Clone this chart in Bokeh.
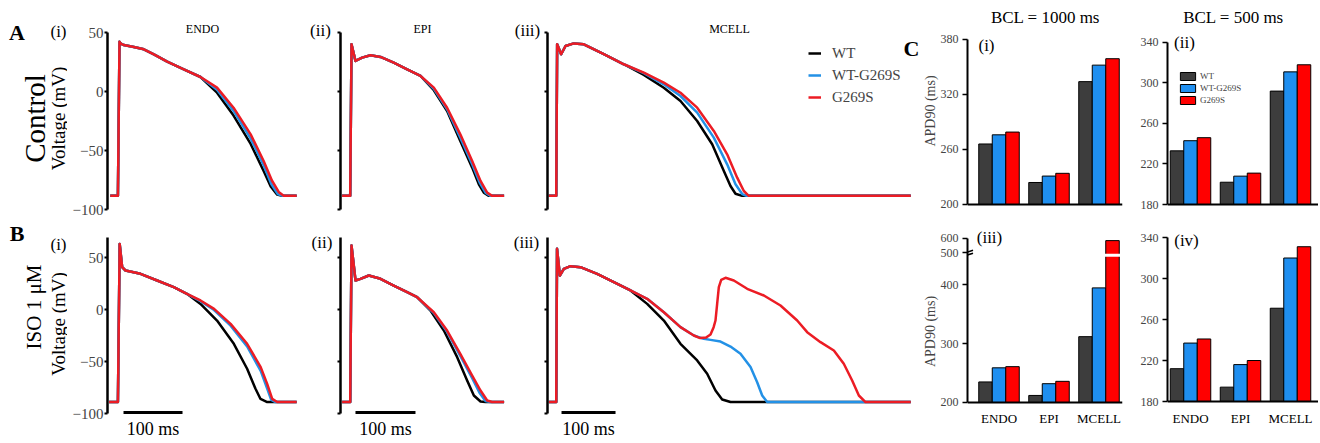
import math
from bokeh.plotting import figure
from bokeh.models import (Range1d, FixedTicker, Label, Legend, LegendItem,
                          Arrow, ColumnDataSource, Span)
from bokeh.layouts import row, column
from bokeh.transform import dodge
from bokeh.embed import file_html
from bokeh.resources import INLINE

SERIES = ["WT", "WT-G269S", "G269S"]
TRACE_COLORS = ["#000000", "#2391e6", "#ec1c24"]
BAR_COLORS = ["#3d3d3d", "#1f8ff0", "#ff0000"]
CELLS = ["ENDO", "EPI", "MCELL"]
SERIF = "Liberation Serif"

# ---------------- APD90 (ms) ----------------
APD_1000_CTRL_WT = [266, 224, 334]
APD_1000_CTRL_HET = [276, 231, 352]
APD_1000_CTRL_MUT = [279, 234, 359]
APD_500_CTRL_WT = [233, 202, 292]
APD_500_CTRL_HET = [243, 208, 311]
APD_500_CTRL_MUT = [246, 211, 318]
APD_1000_ISO_WT = [235, 212, 312]
APD_1000_ISO_HET = [259, 232, 395]
APD_1000_ISO_MUT = [261, 236, 585]
APD_500_ISO_WT = [212, 194, 271]
APD_500_ISO_HET = [237, 216, 320]
APD_500_ISO_MUT = [241, 220, 331]

V_TICKS = [-100, -50, 0, 50]
V_TICK_LABELS = ["\u2212100", "\u221250", "0", "50"]

# ---------------- action potentials: (time ms, voltage mV) ----------------
ENDO_CTRL_SHARED = [(-14, -88), (-1, -88), (1.7, 42.6), (4, 41), (9, 39.8), (26, 38.1),
                    (43, 36.2), (60, 31.9), (82.5, 25.7), (110.7, 19.2), (139, 12.7)]
ENDO_CTRL_WT = [(167, -0.6), (195, -20), (224, -44), (246, -67), (258, -80), (269, -87), (277, -88), (302, -88)]
ENDO_CTRL_HET = [(167, 2), (195, -16), (224, -39.5), (246, -62), (259, -78), (270, -86.5), (278, -88), (302, -88)]
ENDO_CTRL_MUT = [(167, 3.7), (195, -13.3), (224, -35.9), (246, -58.5), (260, -75), (272, -85), (280, -88), (302, -88)]

EPI_CTRL_SHARED = [(-14, -88), (-0.5, -88), (1.7, 40.4), (8.3, 26.3), (19.4, 29.1), (33.3, 31.1),
                   (50, 29.7), (72, 24.9), (94.4, 19.2), (116.7, 13.6)]
EPI_CTRL_WT = [(138.9, 1.5), (161, -16.1), (183, -41.5), (202.8, -64.1), (213.9, -78.2), (222.2, -85.3), (230.5, -88), (256, -88)]
EPI_CTRL_HET = [(138.9, 2.6), (161, -14.7), (183, -38.7), (202.8, -61.3), (215.3, -76.8), (225, -85.3), (233.3, -88), (256, -88)]
EPI_CTRL_MUT = [(138.9, 3.7), (161, -13.3), (183, -35.9), (202.8, -58.5), (216.7, -75.4), (227.8, -85.3), (236, -88), (256, -88)]

MCELL_CTRL_SHARED = [(-14.2, -88), (-0.5, -88), (1.2, 40.4), (8.6, 32), (16.7, 39), (32, 41.2),
                     (50.6, 40.4), (87.6, 32), (124.7, 23.5)]
MCELL_CTRL_WT = [(161.7, 14.5), (198.7, 3.6), (229.6, -7.6), (260.5, -24.6), (288.3, -44.3), (309.9, -67),
                 (322.2, -79.7), (331.5, -86.2), (343.8, -88), (656, -88)]
MCELL_CTRL_HET = [(161.7, 16), (198.7, 6.5), (229.6, -3.4), (260.5, -17.5), (291.3, -38.7), (316, -61.3),
                  (331.5, -78.2), (343.8, -86.5), (351.9, -88), (656, -88)]
MCELL_CTRL_MUT = [(161.7, 16.4), (198.7, 7.9), (229.6, -0.6), (260.5, -13.3), (291.3, -33), (316, -52.8),
                  (334.6, -72.6), (346.9, -83.9), (356, -88), (656, -88)]

ENDO_ISO_SHARED = [(-16, -89), (-1, -89), (2, 63), (6.2, 40.7), (11.9, 37.5), (37.3, 34.3),
                   (65.5, 27.9), (93.7, 21.5), (116, 15.1)]
ENDO_ISO_WT = [(139, 5.4), (167, -10.6), (195.5, -33), (218, -57), (232, -76), (240.7, -86), (252, -89), (302, -89)]
ENDO_ISO_HET = [(139, 8), (162, -0.5), (190, -15.5), (218, -35.5), (241, -59), (252, -76), (259, -87), (266, -89), (302, -89)]
ENDO_ISO_MUT = [(139, 8.7), (162, 0.6), (190, -13.8), (218, -33), (241, -55.4), (252, -71.5), (260.5, -85.9), (269, -89), (302, -89)]

EPI_ISO_SHARED = [(-14, -89), (-0.5, -89), (1.7, 61.5), (8.3, 27.9), (16.7, 29.5), (30.5, 32.7),
                  (50, 29.5), (72, 23), (94.4, 16.7), (111, 11.8)]
EPI_ISO_WT = [(133.3, -1), (155.6, -20.2), (177.8, -45.8), (194.4, -68.3), (205.6, -82.7), (216.7, -88.5), (225, -89), (256, -89)]
EPI_ISO_HET = [(138.9, -3.5), (161, -21.5), (183, -44.5), (202.8, -66), (215, -80), (225, -88), (233, -89), (256, -89)]
EPI_ISO_MUT = [(138.9, -2.6), (161, -20.2), (183, -42.6), (202.8, -63.5), (216.7, -77.9), (227.8, -87.5), (236, -89), (256, -89)]

MCELL_ISO_SHARED = [(-14.2, -89), (-0.5, -89), (1, 58.3), (6.2, 32.7), (13.6, 39.1), (25.9, 41.7),
                    (44.4, 40.7), (75.3, 34.3), (106.2, 26.3), (137, 18.3)]
MCELL_ISO_WT = [(167.9, 5.4), (198.8, -10.6), (229.6, -33), (260.5, -49), (279, -61.8), (294.4, -77.9),
                (306.8, -86.5), (322.2, -89), (656, -89)]
MCELL_ISO_HET = [(167.9, 10.3), (198.8, -2.6), (229.6, -17), (254.3, -25), (272.8, -28.2), (285.2, -29.2),
                 (303.7, -30.8), (322.2, -35.6), (340.7, -42.6), (359.3, -55.4), (371.6, -69.9),
                 (380.9, -82.7), (390.1, -89), (656, -89)]
MCELL_ISO_MUT = [(167.9, 10.3), (198.8, -2.6), (229.6, -17), (254.3, -25), (266, -27.5), (277, -27),
                 (285.2, -24), (291, -17), (294.4, -10.6), (297.5, 5.4), (300.6, 21.5), (305, 28.5),
                 (313, 30.5), (328.4, 27.9), (353.1, 19.9), (384, 13.5), (414.8, 3.8), (445.7, -10.6),
                 (464.2, -21.8), (488.9, -31.4), (513.6, -39.4), (532, -52.2), (547.5, -68.3),
                 (559.9, -82.7), (572.2, -89), (656, -89)]

# view windows (ms / mV) of the trace panels
COL_T_RANGES = [(-18.64, 366.1), (-16.67, 321.67), (-16.67, 672.2)]
ROW_V_RANGES = [(-109.75, 77.54), (-126.92, 84.62)]
ROW_V_BOUNDS = [(-100, 50), (-100, 69.2)]
SCALE_BAR_START = [8.5, 8.3, 9.3]
SCALE_BAR_LEN = 100
SCALE_BAR_LEVEL = -99

BAR_W = 0.27
BREAK_FROM, BREAK_TO, UPPER_COMPRESS = 455, 500, 0.24


def broken(v):
    return v if v <= BREAK_FROM else BREAK_FROM + (v - BREAK_TO) * UPPER_COMPRESS


def text(p, x, y, s, size, bold=False, angle=0.0, xu="canvas", yu="canvas", align="center"):
    p.add_layout(Label(x=x, y=y, x_units=xu, y_units=yu, text=s, text_font=SERIF,
                       text_font_size=f"{size}px", text_font_style="bold" if bold else "normal",
                       angle=angle, text_align=align, text_baseline="middle", text_color="black"))


def base_fig(width, height, left, right, xr, yr, y_axis=True):
    p = figure(width=width, height=height, x_range=Range1d(*xr), y_range=Range1d(*yr),
               output_backend="svg", toolbar_location=None, x_axis_location=None,
               y_axis_location="left" if y_axis else None,
               min_border_left=left, min_border_right=right, min_border_top=0, min_border_bottom=0)
    p.outline_line_color = None
    p.grid.visible = False
    p.background_fill_color = "white"
    p.border_fill_color = "white"
    for ax in p.yaxis:
        ax.axis_label_standoff = 0
        ax.minor_tick_out = 0
        ax.minor_tick_in = 0
        ax.minor_tick_line_color = None
    return p


def trace_panel(width, height, left, xr, ri, labels, shared, tails):
    p = base_fig(width, height, left, 0, xr, ROW_V_RANGES[ri])
    ax = p.yaxis[0]
    ax.bounds = ROW_V_BOUNDS[ri]
    ax.ticker = FixedTicker(ticks=V_TICKS)
    ax.major_tick_out = 3
    ax.major_tick_in = 0
    ax.axis_line_width = 2.5
    ax.major_tick_line_width = 2
    if labels:
        ax.major_label_overrides = dict(zip(V_TICKS, V_TICK_LABELS))
        ax.major_label_text_font = SERIF
        ax.major_label_text_font_size = "15px"
        ax.major_label_standoff = 1
    else:
        ax.major_label_text_color = None
        ax.major_label_standoff = 0
    rends = []
    for tail, col in zip(tails, TRACE_COLORS):
        pts = shared + tail
        rends.append(p.line([q[0] for q in pts], [q[1] for q in pts], line_color=col,
                            line_width=2.5, line_join="round"))
    return p, rends


def add_scalebar(p, col):
    s = SCALE_BAR_START[col]
    p.line([s, s + SCALE_BAR_LEN], [SCALE_BAR_LEVEL, SCALE_BAR_LEVEL], line_color="black", line_width=3)
    text(p, s + SCALE_BAR_LEN / 2, 207, "100 ms", 18, xu="data")


def bar_panel(width, height, left, right, xr, yr, base, top, ticks, values, show_cats,
              disp=lambda v: v, ylabel=None):
    p = base_fig(width, height, left, right, xr, yr)
    data = {"x": [0, 1, 2]}
    for s, vals in zip(SERIES, values):
        data[s] = [disp(v) for v in vals]
    src = ColumnDataSource(data)
    rends = []
    for i, s in enumerate(SERIES):
        rends.append(p.vbar(x=dodge("x", (i - 1) * BAR_W), top=s, bottom=base, width=BAR_W,
                            source=src, fill_color=BAR_COLORS[i], line_color="black", line_width=1))
    p.add_layout(Span(location=base, dimension="width", line_color="black", line_width=2))
    if show_cats:
        for i, c in enumerate(CELLS):
            text(p, i, 197, c, 13, xu="data")
    ya = p.yaxis[0]
    ya.bounds = (base, disp(top))
    ya.ticker = FixedTicker(ticks=[disp(t) for t in ticks])
    ya.major_label_overrides = {disp(t): str(t) for t in ticks}
    ya.major_tick_out = 5
    ya.major_tick_in = 0
    ya.axis_line_width = 2
    ya.major_tick_line_width = 1.5
    ya.major_label_text_font = SERIF
    ya.major_label_text_font_size = "12px"
    ya.major_label_standoff = 4
    if ylabel:
        ya.axis_label = ylabel
        ya.axis_label_text_font = SERIF
        ya.axis_label_text_font_size = "14px"
        ya.axis_label_text_font_style = "normal"
    return p, rends


H0, H1 = 221, 220
W = [67, 267, 209, 376, 211, 188]

# ---------------- left text strips ----------------
fA0 = base_fig(W[0], H0, 0, 0, (0, 1), (0, 1), y_axis=False)
text(fA0, 16.5, 31.5, "A", 22, bold=True)
text(fA0, 58, 31, "(i)", 17)
text(fA0, 34, 118, "Control", 29, angle=math.pi / 2)
text(fA0, 57.5, 118, "Voltage (mV)", 19, angle=math.pi / 2)

fB0 = base_fig(W[0], H1, 0, 0, (0, 1), (0, 1), y_axis=False)
text(fB0, 16.5, 11.5, "B", 22, bold=True)
text(fB0, 58, 23, "(i)", 17)
text(fB0, 33, 85.5, "ISO 1 \u03bcM", 21, angle=math.pi / 2)
text(fB0, 57.5, 102.5, "Voltage (mV)", 19, angle=math.pi / 2)

# ---------------- row A (control) ----------------
fA1, _ = trace_panel(W[1], H0, 40, COL_T_RANGES[0], 0, True,
                     ENDO_CTRL_SHARED, [ENDO_CTRL_WT, ENDO_CTRL_HET, ENDO_CTRL_MUT])
text(fA1, 135, 28, "ENDO", 12)
text(fA1, 253, 30, "(ii)", 17)

fA2, _ = trace_panel(W[2], H0, 6, COL_T_RANGES[1], 0, False,
                     EPI_CTRL_SHARED, [EPI_CTRL_WT, EPI_CTRL_HET, EPI_CTRL_MUT])
text(fA2, 88, 28, "EPI", 12)
text(fA2, 193, 30, "(iii)", 17)

fA3, rA3 = trace_panel(W[3], H0, 4, COL_T_RANGES[2], 0, False,
                       MCELL_CTRL_SHARED, [MCELL_CTRL_WT, MCELL_CTRL_HET, MCELL_CTRL_MUT])
text(fA3, 186, 28, "MCELL", 12)
text(fA3, 368, 47.5, "C", 22, bold=True)
legA = Legend(items=[LegendItem(label=s, renderers=[r]) for s, r in zip(SERIES, rA3)],
              location=(261, 114), border_line_color=None, background_fill_alpha=0,
              padding=0, margin=0, spacing=2, glyph_width=13, glyph_height=20, label_height=20,
              label_standoff=11, label_text_font=SERIF, label_text_font_size="15px")
fA3.add_layout(legA)

# ---------------- row B (ISO) ----------------
fB1, _ = trace_panel(W[1], H1, 40, COL_T_RANGES[0], 1, True,
                     ENDO_ISO_SHARED, [ENDO_ISO_WT, ENDO_ISO_HET, ENDO_ISO_MUT])
text(fB1, 254.5, 20.5, "(ii)", 17)
add_scalebar(fB1, 0)

fB2, _ = trace_panel(W[2], H1, 6, COL_T_RANGES[1], 1, False,
                     EPI_ISO_SHARED, [EPI_ISO_WT, EPI_ISO_HET, EPI_ISO_MUT])
text(fB2, 192, 20.5, "(iii)", 17)
add_scalebar(fB2, 1)

fB3, _ = trace_panel(W[3], H1, 4, COL_T_RANGES[2], 1, False,
                     MCELL_ISO_SHARED, [MCELL_ISO_WT, MCELL_ISO_HET, MCELL_ISO_MUT])
add_scalebar(fB3, 2)

# ---------------- panel C (APD90 bars) ----------------
fC1, _ = bar_panel(W[4], H0, 48, 8, (-0.63, 2.47), (181.45, 422.5), 200, 380,
                   [200, 260, 320, 380],
                   [APD_1000_CTRL_WT, APD_1000_CTRL_HET, APD_1000_CTRL_MUT], False,
                   ylabel="APD90 (ms)")
text(fC1, 126, 16.5, "BCL = 1000 ms", 17)
text(fC1, 67, 45, "(i)", 17)

fC2, rC2 = bar_panel(W[5], H0, 37, 0, (-0.46, 2.56), (163.21, 381.48), 180, 340,
                     [180, 220, 260, 300, 340],
                     [APD_500_CTRL_WT, APD_500_CTRL_HET, APD_500_CTRL_MUT], False)
text(fC2, 103, 16.5, "BCL = 500 ms", 17)
text(fC2, 54, 41.5, "(ii)", 17)
legC = Legend(items=[LegendItem(label=s, renderers=[r]) for s, r in zip(SERIES, rC2)],
              location=(11, 116), border_line_color=None, background_fill_alpha=0,
              padding=0, margin=0, spacing=2, glyph_width=19, glyph_height=10, label_height=10,
              label_standoff=3, label_text_font=SERIF, label_text_font_size="9px")
fC2.add_layout(legC)

iso1000 = [APD_1000_ISO_WT, APD_1000_ISO_HET, APD_1000_ISO_MUT]
fC3, _ = bar_panel(W[4], H1, 48, 8, (-0.63, 2.47), (133.65, 507.92), 200, 600,
                   [200, 300, 400, 500, 600], iso1000, True, disp=broken, ylabel="APD90 (ms)")
gx = []
for i, vals in enumerate(iso1000):
    for j, v in enumerate(vals):
        if v > BREAK_TO:
            gx.append(j + (i - 1) * BAR_W)
fC3.vbar(x=gx, bottom=BREAK_FROM - 7, top=BREAK_FROM - 2, width=BAR_W * 1.15,
         fill_color="white", line_color=None)
for dy in (-4, 1):
    fC3.add_layout(Arrow(end=None, x_start=-0.63 - 0.11, y_start=BREAK_FROM + dy - 3,
                         x_end=-0.63 + 0.11, y_end=BREAK_FROM + dy + 3,
                         line_color="black", line_width=1.5))
text(fC3, 70, 16, "(iii)", 17)

fC4, _ = bar_panel(W[5], H1, 37, 0, (-0.46, 2.56), (140.98, 355.61), 180, 340,
                   [180, 220, 260, 300, 340],
                   [APD_500_ISO_WT, APD_500_ISO_HET, APD_500_ISO_MUT], True)
text(fC4, 56, 19, "(iv)", 17)

layout = column(row(fA0, fA1, fA2, fA3, fC1, fC2), row(fB0, fB1, fB2, fB3, fC3, fC4))
open("out.html", "w").write(file_html(layout, INLINE))
